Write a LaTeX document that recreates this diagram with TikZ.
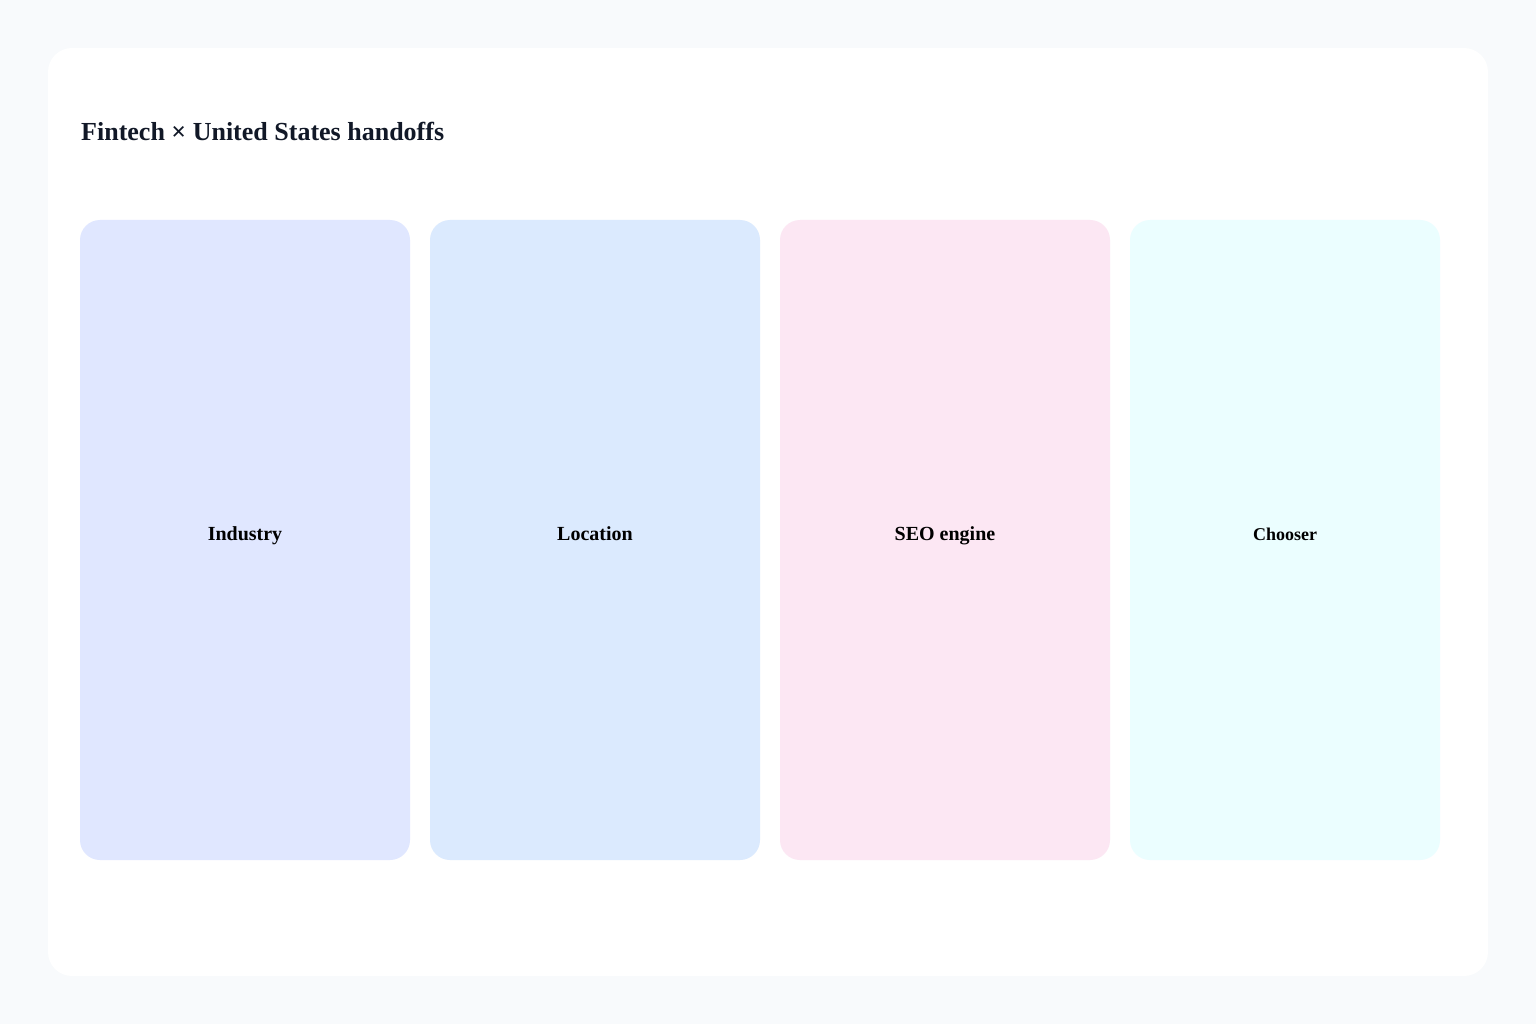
\documentclass[tikz,border=0pt]{standalone}
\usepackage{fontspec}
\setmainfont{Liberation Serif}
\definecolor{pagebg}{HTML}{F8FAFC}
\definecolor{titlec}{HTML}{111827}
\definecolor{colA}{HTML}{E0E7FF}
\definecolor{colB}{HTML}{DBEAFE}
\definecolor{colC}{HTML}{FCE7F3}
\definecolor{colD}{HTML}{EBFEFF}
\tikzset{
  lane/.style={draw=none, rounded corners=20pt},
  lanelabel/.style={anchor=base, font=\bfseries\fontsize{20}{24}\selectfont, text=black, inner sep=0pt},
}
\begin{document}
\begin{tikzpicture}[x=1pt,y=-1pt]
\useasboundingbox (0,0) rectangle (1536,1024);
\fill[pagebg] (0,0) rectangle (1536,1024);
\fill[white, rounded corners=24pt] (48,48) rectangle (1488,976);
\node[anchor=base west, inner sep=0pt, text=titlec, font=\bfseries\fontsize{26}{31}\selectfont] (title) at (81,141) {Fintech × United States handoffs};
\fill[lane, fill=colA] (80,220) rectangle (410,860);
\fill[lane, fill=colB] (430,220) rectangle (760,860);
\fill[lane, fill=colC] (780,220) rectangle (1110,860);
\fill[lane, fill=colD] (1130,220) rectangle (1440,860);
\node[lanelabel] (industry) at (245,540) {Industry};
\node[lanelabel] (location) at (595,540) {Location};
\node[lanelabel] (seo) at (945,540) {SEO engine};
\node[lanelabel, font=\bfseries\fontsize{18}{22}\selectfont] (chooser) at (1285,540) {Chooser};
\end{tikzpicture}
\end{document}
